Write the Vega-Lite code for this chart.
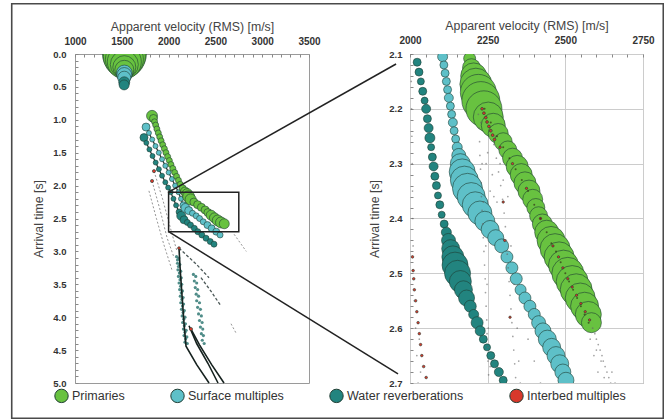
{
"$schema": "https://vega.github.io/schema/vega-lite/v6.json",
"padding": {"left": 10, "top": 2, "right": 1, "bottom": 2},
"background": "white",
"bounds": "flush",
"spacing": 101,
"datasets": {
"L": [
{"s":"Water reverberations","v":1737,"t":1.27,"a":4},{"s":"Water reverberations","v":1762,"t":1.35,"a":2.5},{"s":"Water reverberations","v":1795,"t":1.45,"a":2.5},{"s":"Water reverberations","v":1828,"t":1.55,"a":2.5},{"s":"Water reverberations","v":1862,"t":1.65,"a":2.5},{"s":"Water reverberations","v":1896,"t":1.75,"a":2.5},{"s":"Water reverberations","v":1930,"t":1.85,"a":2.5},{"s":"Water reverberations","v":1965,"t":1.95,"a":2.5},{"s":"Water reverberations","v":1995,"t":2.03,"a":2.5},{"s":"Water reverberations","v":2022,"t":2.1,"a":2.5},{"s":"Water reverberations","v":2052,"t":2.2,"a":2.5},{"s":"Water reverberations","v":2080,"t":2.3,"a":2.5},{"s":"Water reverberations","v":2112,"t":2.4,"a":3},{"s":"Water reverberations","v":2135,"t":2.46,"a":4.5},{"s":"Water reverberations","v":2165,"t":2.52,"a":4},{"s":"Water reverberations","v":2200,"t":2.56,"a":3},{"s":"Water reverberations","v":2234,"t":2.6,"a":3},{"s":"Water reverberations","v":2275,"t":2.65,"a":3},{"s":"Water reverberations","v":2312,"t":2.7,"a":3},{"s":"Water reverberations","v":2355,"t":2.75,"a":3},{"s":"Water reverberations","v":2400,"t":2.8,"a":3},{"s":"Water reverberations","v":2445,"t":2.85,"a":3},{"s":"Water reverberations","v":2485,"t":2.89,"a":3},
{"s":"Surface multiples","v":1759,"t":1.11,"a":4},{"s":"Surface multiples","v":1790,"t":1.2,"a":2.5},{"s":"Surface multiples","v":1825,"t":1.3,"a":2.5},{"s":"Surface multiples","v":1860,"t":1.4,"a":2.5},{"s":"Surface multiples","v":1895,"t":1.5,"a":2.5},{"s":"Surface multiples","v":1930,"t":1.6,"a":2.5},{"s":"Surface multiples","v":1965,"t":1.7,"a":2.5},{"s":"Surface multiples","v":2000,"t":1.8,"a":2.5},{"s":"Surface multiples","v":2035,"t":1.9,"a":2.5},{"s":"Surface multiples","v":2070,"t":2.0,"a":2.5},{"s":"Surface multiples","v":2106,"t":2.1,"a":2.5},{"s":"Surface multiples","v":2132,"t":2.2,"a":2.5},{"s":"Surface multiples","v":2158,"t":2.3,"a":3.5},{"s":"Surface multiples","v":2180,"t":2.34,"a":4.5},{"s":"Surface multiples","v":2215,"t":2.38,"a":4},{"s":"Surface multiples","v":2255,"t":2.42,"a":3},{"s":"Surface multiples","v":2295,"t":2.46,"a":3},{"s":"Surface multiples","v":2331,"t":2.5,"a":3},{"s":"Surface multiples","v":2370,"t":2.55,"a":3},{"s":"Surface multiples","v":2415,"t":2.6,"a":3.5},{"s":"Surface multiples","v":2460,"t":2.65,"a":3.5},{"s":"Surface multiples","v":2509,"t":2.7,"a":3.5},{"s":"Surface multiples","v":2550,"t":2.75,"a":3},
{"s":"Primaries","v":1823,"t":0.94,"a":5.5},{"s":"Primaries","v":1838,"t":0.98,"a":4},{"s":"Primaries","v":1850,"t":1.03,"a":3},{"s":"Primaries","v":1862,"t":1.08,"a":3},{"s":"Primaries","v":1875,"t":1.14,"a":3},{"s":"Primaries","v":1890,"t":1.2,"a":3},{"s":"Primaries","v":1905,"t":1.26,"a":3},{"s":"Primaries","v":1920,"t":1.32,"a":3},{"s":"Primaries","v":1937,"t":1.38,"a":3},{"s":"Primaries","v":1955,"t":1.44,"a":3},{"s":"Primaries","v":1972,"t":1.5,"a":3},{"s":"Primaries","v":1990,"t":1.56,"a":3},{"s":"Primaries","v":2008,"t":1.62,"a":3},{"s":"Primaries","v":2025,"t":1.68,"a":3},{"s":"Primaries","v":2045,"t":1.74,"a":3},{"s":"Primaries","v":2065,"t":1.8,"a":3},{"s":"Primaries","v":2085,"t":1.86,"a":3},{"s":"Primaries","v":2105,"t":1.92,"a":3},{"s":"Primaries","v":2125,"t":1.98,"a":3},{"s":"Primaries","v":2150,"t":2.04,"a":3.5},{"s":"Primaries","v":2175,"t":2.09,"a":4.5},{"s":"Primaries","v":2200,"t":2.13,"a":5.5},{"s":"Primaries","v":2215,"t":2.17,"a":6},{"s":"Primaries","v":2235,"t":2.21,"a":5.5},{"s":"Primaries","v":2270,"t":2.25,"a":4},{"s":"Primaries","v":2310,"t":2.29,"a":4},{"s":"Primaries","v":2350,"t":2.33,"a":4},{"s":"Primaries","v":2390,"t":2.37,"a":4},{"s":"Primaries","v":2420,"t":2.41,"a":4},{"s":"Primaries","v":2455,"t":2.45,"a":5},{"s":"Primaries","v":2490,"t":2.49,"a":5},{"s":"Primaries","v":2525,"t":2.53,"a":5.5},{"s":"Primaries","v":2560,"t":2.56,"a":5.5},{"s":"Primaries","v":2595,"t":2.58,"a":5},
{"s":"Primaries","v":1528,"t":0.0,"a":22},{"s":"Primaries","v":1528,"t":0.04,"a":21},{"s":"Primaries","v":1528,"t":0.08,"a":19},{"s":"Primaries","v":1527,"t":0.12,"a":17},{"s":"Primaries","v":1527,"t":0.16,"a":14},{"s":"Primaries","v":1527,"t":0.2,"a":11.5},{"s":"Primaries","v":1527,"t":0.24,"a":9.5},
{"s":"Surface multiples","v":1527,"t":0.29,"a":8},{"s":"Surface multiples","v":1527,"t":0.32,"a":7.5},{"s":"Surface multiples","v":1526,"t":0.36,"a":6.5},
{"s":"Water reverberations","v":1526,"t":0.43,"a":5.5},{"s":"Water reverberations","v":1525,"t":0.47,"a":5},
{"s":"Interbed multiples","v":1844,"t":1.78,"a":1.6},{"s":"Interbed multiples","v":1823,"t":1.93,"a":1.6},{"s":"Interbed multiples","v":2239,"t":4.18,"a":1.6},{"s":"Interbed multiples","v":2111,"t":2.95,"a":1.4}
],
"Lb": [
{"v":2085,"t":3.08},{"v":2110,"t":3.1},{"v":2095,"t":3.18},{"v":2120,"t":3.2},{"v":2100,"t":3.28},{"v":2130,"t":3.3},{"v":2105,"t":3.38},{"v":2135,"t":3.4},{"v":2112,"t":3.48},{"v":2140,"t":3.5},{"v":2118,"t":3.58},{"v":2148,"t":3.6},{"v":2125,"t":3.68},{"v":2155,"t":3.7},{"v":2130,"t":3.78},{"v":2160,"t":3.8},{"v":2138,"t":3.88},{"v":2168,"t":3.9},{"v":2145,"t":3.98},{"v":2175,"t":4.0},{"v":2150,"t":4.08},{"v":2180,"t":4.1},{"v":2158,"t":4.18},{"v":2188,"t":4.2},{"v":2165,"t":4.28},{"v":2195,"t":4.3},{"v":2175,"t":4.38},{"v":2200,"t":4.4},
{"v":2095,"t":3.13},{"v":2105,"t":3.23},{"v":2115,"t":3.33},{"v":2122,"t":3.43},{"v":2128,"t":3.53},{"v":2135,"t":3.63},{"v":2142,"t":3.73},{"v":2148,"t":3.83},{"v":2155,"t":3.93},{"v":2162,"t":4.03},{"v":2168,"t":4.13},{"v":2175,"t":4.23},{"v":2182,"t":4.33},
{"v":2265,"t":3.35},{"v":2290,"t":3.38},{"v":2275,"t":3.45},{"v":2300,"t":3.48},{"v":2285,"t":3.55},{"v":2310,"t":3.58},{"v":2295,"t":3.65},{"v":2320,"t":3.68},{"v":2300,"t":3.75},{"v":2330,"t":3.78},{"v":2310,"t":3.85},{"v":2340,"t":3.88},{"v":2320,"t":3.95},{"v":2350,"t":3.98},{"v":2330,"t":4.05},{"v":2358,"t":4.08},{"v":2340,"t":4.15},{"v":2365,"t":4.18},{"v":2350,"t":4.25},{"v":2372,"t":4.28},{"v":2360,"t":4.35},{"v":2380,"t":4.4}
],
"dark": [
{"id":"A","v":2111,"t":2.95},{"id":"A","v":2125,"t":3.3},{"id":"A","v":2145,"t":3.7},{"id":"A","v":2165,"t":4.1},{"id":"A","v":2186,"t":4.44},{"id":"A","v":2300,"t":4.72},{"id":"A","v":2432,"t":5.0},
{"id":"B","v":2218,"t":4.13},{"id":"B","v":2300,"t":4.4},{"id":"B","v":2420,"t":4.7},{"id":"B","v":2528,"t":5.0},
{"id":"C","v":2239,"t":4.18},{"id":"C","v":2330,"t":4.42},{"id":"C","v":2460,"t":4.72},{"id":"C","v":2592,"t":5.0}
],
"dash": [
{"id":"F1","v":1844,"t":1.78},{"id":"F1","v":1935,"t":2.2},{"id":"F1","v":2030,"t":2.7},{"id":"F1","v":2090,"t":3.0},
{"id":"F2","v":1823,"t":1.93},{"id":"F2","v":1905,"t":2.35},{"id":"F2","v":1985,"t":2.8},{"id":"F2","v":2060,"t":3.1},
{"id":"F3","v":1790,"t":2.08},{"id":"F3","v":1870,"t":2.5},{"id":"F3","v":1950,"t":2.9},{"id":"F3","v":2040,"t":3.3},
{"id":"F6","v":2667,"t":4.1},{"id":"F6","v":2720,"t":4.24},
{"id":"F7","v":2700,"t":2.74},{"id":"F7","v":2830,"t":3.0}
],
"dashd": [
{"id":"F4","v":2111,"t":2.95},{"id":"F4","v":2300,"t":3.2},{"id":"F4","v":2432,"t":3.4},
{"id":"F5","v":2346,"t":3.4},{"id":"F5","v":2450,"t":3.6},{"id":"F5","v":2560,"t":3.83}
],
"R": [
{"s":"Water reverberations","v":2023,"t":2.115,"a":4},{"s":"Water reverberations","v":2029,"t":2.133,"a":4},{"s":"Water reverberations","v":2035,"t":2.15,"a":3.5},{"s":"Water reverberations","v":2041,"t":2.168,"a":4},{"s":"Water reverberations","v":2047,"t":2.185,"a":3.5},{"s":"Water reverberations","v":2052,"t":2.2,"a":4.5},{"s":"Water reverberations","v":2056,"t":2.218,"a":4},{"s":"Water reverberations","v":2060,"t":2.235,"a":4.5},{"s":"Water reverberations","v":2064,"t":2.253,"a":5},{"s":"Water reverberations","v":2068,"t":2.27,"a":3.5},{"s":"Water reverberations","v":2072,"t":2.288,"a":4},{"s":"Water reverberations","v":2076,"t":2.305,"a":4.5},{"s":"Water reverberations","v":2080,"t":2.323,"a":4},{"s":"Water reverberations","v":2085,"t":2.34,"a":4},{"s":"Water reverberations","v":2090,"t":2.358,"a":3.5},{"s":"Water reverberations","v":2096,"t":2.375,"a":4},{"s":"Water reverberations","v":2102,"t":2.393,"a":3.5},{"s":"Water reverberations","v":2110,"t":2.41,"a":4},{"s":"Water reverberations","v":2117,"t":2.425,"a":5},{"s":"Water reverberations","v":2124,"t":2.44,"a":7},{"s":"Water reverberations","v":2131,"t":2.455,"a":9},{"s":"Water reverberations","v":2138,"t":2.47,"a":11},{"s":"Water reverberations","v":2145,"t":2.485,"a":13},{"s":"Water reverberations","v":2153,"t":2.5,"a":13},{"s":"Water reverberations","v":2162,"t":2.515,"a":11},{"s":"Water reverberations","v":2172,"t":2.53,"a":9},{"s":"Water reverberations","v":2182,"t":2.545,"a":8},{"s":"Water reverberations","v":2194,"t":2.56,"a":6},{"s":"Water reverberations","v":2205,"t":2.575,"a":5},{"s":"Water reverberations","v":2216,"t":2.59,"a":6},{"s":"Water reverberations","v":2226,"t":2.605,"a":5},{"s":"Water reverberations","v":2236,"t":2.62,"a":4},{"s":"Water reverberations","v":2248,"t":2.635,"a":3.5},{"s":"Water reverberations","v":2260,"t":2.65,"a":4},{"s":"Water reverberations","v":2272,"t":2.665,"a":4},{"s":"Water reverberations","v":2286,"t":2.68,"a":4.5},{"s":"Water reverberations","v":2300,"t":2.695,"a":4},
{"s":"Surface multiples","v":2105,"t":2.105,"a":5},{"s":"Surface multiples","v":2109,"t":2.12,"a":4},{"s":"Surface multiples","v":2113,"t":2.135,"a":4},{"s":"Surface multiples","v":2117,"t":2.15,"a":4},{"s":"Surface multiples","v":2121,"t":2.165,"a":4},{"s":"Surface multiples","v":2125,"t":2.18,"a":4.5},{"s":"Surface multiples","v":2130,"t":2.195,"a":4},{"s":"Surface multiples","v":2134,"t":2.21,"a":4},{"s":"Surface multiples","v":2138,"t":2.225,"a":4.5},{"s":"Surface multiples","v":2142,"t":2.24,"a":4},{"s":"Surface multiples","v":2147,"t":2.255,"a":4},{"s":"Surface multiples","v":2152,"t":2.27,"a":5},{"s":"Surface multiples","v":2157,"t":2.285,"a":7},{"s":"Surface multiples","v":2162,"t":2.3,"a":10},{"s":"Surface multiples","v":2168,"t":2.315,"a":13},{"s":"Surface multiples","v":2175,"t":2.33,"a":14},{"s":"Surface multiples","v":2185,"t":2.345,"a":15},{"s":"Surface multiples","v":2197,"t":2.36,"a":14},{"s":"Surface multiples","v":2210,"t":2.375,"a":13},{"s":"Surface multiples","v":2225,"t":2.39,"a":12},{"s":"Surface multiples","v":2241,"t":2.405,"a":10},{"s":"Surface multiples","v":2258,"t":2.42,"a":9},{"s":"Surface multiples","v":2276,"t":2.435,"a":8},{"s":"Surface multiples","v":2295,"t":2.45,"a":7},{"s":"Surface multiples","v":2312,"t":2.47,"a":6},{"s":"Surface multiples","v":2328,"t":2.49,"a":6},{"s":"Surface multiples","v":2342,"t":2.51,"a":6},{"s":"Surface multiples","v":2356,"t":2.53,"a":5.5},{"s":"Surface multiples","v":2370,"t":2.545,"a":6},{"s":"Surface multiples","v":2386,"t":2.56,"a":6},{"s":"Surface multiples","v":2400,"t":2.575,"a":6},{"s":"Surface multiples","v":2414,"t":2.59,"a":7},{"s":"Surface multiples","v":2428,"t":2.605,"a":8},{"s":"Surface multiples","v":2442,"t":2.62,"a":9},{"s":"Surface multiples","v":2456,"t":2.635,"a":9},{"s":"Surface multiples","v":2470,"t":2.65,"a":9},{"s":"Surface multiples","v":2482,"t":2.665,"a":9},{"s":"Surface multiples","v":2492,"t":2.68,"a":8},{"s":"Surface multiples","v":2502,"t":2.695,"a":8},
{"s":"Primaries","v":2192,"t":2.108,"a":6},{"s":"Primaries","v":2198,"t":2.125,"a":9},{"s":"Primaries","v":2205,"t":2.14,"a":13},{"s":"Primaries","v":2212,"t":2.155,"a":16},{"s":"Primaries","v":2220,"t":2.17,"a":18},{"s":"Primaries","v":2228,"t":2.185,"a":19},{"s":"Primaries","v":2238,"t":2.2,"a":18},{"s":"Primaries","v":2252,"t":2.215,"a":15},{"s":"Primaries","v":2268,"t":2.23,"a":12},{"s":"Primaries","v":2284,"t":2.245,"a":10},{"s":"Primaries","v":2300,"t":2.26,"a":9},{"s":"Primaries","v":2315,"t":2.275,"a":9},{"s":"Primaries","v":2330,"t":2.29,"a":10},{"s":"Primaries","v":2345,"t":2.305,"a":11},{"s":"Primaries","v":2358,"t":2.32,"a":11},{"s":"Primaries","v":2370,"t":2.335,"a":11},{"s":"Primaries","v":2383,"t":2.35,"a":11},{"s":"Primaries","v":2395,"t":2.365,"a":10},{"s":"Primaries","v":2405,"t":2.38,"a":9},{"s":"Primaries","v":2414,"t":2.395,"a":9},{"s":"Primaries","v":2426,"t":2.41,"a":10},{"s":"Primaries","v":2440,"t":2.425,"a":12},{"s":"Primaries","v":2454,"t":2.44,"a":14},{"s":"Primaries","v":2467,"t":2.455,"a":15},{"s":"Primaries","v":2480,"t":2.47,"a":15},{"s":"Primaries","v":2494,"t":2.485,"a":15},{"s":"Primaries","v":2508,"t":2.5,"a":16},{"s":"Primaries","v":2522,"t":2.515,"a":16},{"s":"Primaries","v":2535,"t":2.53,"a":16},{"s":"Primaries","v":2548,"t":2.545,"a":15},{"s":"Primaries","v":2562,"t":2.56,"a":14},{"s":"Primaries","v":2574,"t":2.575,"a":13},{"s":"Primaries","v":2584,"t":2.59,"a":10},
{"s":"Interbed multiples","v":2232,"t":2.2,"a":1.4},{"s":"Interbed multiples","v":2238,"t":2.208,"a":1.4},{"s":"Interbed multiples","v":2244,"t":2.216,"a":1.4},{"s":"Interbed multiples","v":2248,"t":2.224,"a":1.4},{"s":"Interbed multiples","v":2254,"t":2.232,"a":1.4},{"s":"Interbed multiples","v":2260,"t":2.24,"a":1.4},{"s":"Interbed multiples","v":2266,"t":2.248,"a":1.4},{"s":"Interbed multiples","v":2272,"t":2.256,"a":1.4},{"s":"Interbed multiples","v":2290,"t":2.27,"a":1.2},{"s":"Interbed multiples","v":2330,"t":2.3,"a":1.2},{"s":"Interbed multiples","v":2375,"t":2.345,"a":1.2},{"s":"Interbed multiples","v":2420,"t":2.4,"a":1.2},{"s":"Interbed multiples","v":2460,"t":2.45,"a":1.2},{"s":"Interbed multiples","v":2478,"t":2.47,"a":1.2},{"s":"Interbed multiples","v":2492,"t":2.49,"a":1.2},{"s":"Interbed multiples","v":2508,"t":2.51,"a":1.2},{"s":"Interbed multiples","v":2522,"t":2.525,"a":1.2},{"s":"Interbed multiples","v":2536,"t":2.54,"a":1.2},{"s":"Interbed multiples","v":2550,"t":2.555,"a":1.2},{"s":"Interbed multiples","v":2564,"t":2.57,"a":1.2},{"s":"Interbed multiples","v":2578,"t":2.585,"a":1.2},
{"s":"Interbed multiples","v":2008,"t":2.47,"a":1.3},{"s":"Interbed multiples","v":2010,"t":2.495,"a":1.3},{"s":"Interbed multiples","v":2012,"t":2.51,"a":1.3},{"s":"Interbed multiples","v":2014,"t":2.53,"a":1.3},{"s":"Interbed multiples","v":2018,"t":2.55,"a":1.3},{"s":"Interbed multiples","v":2022,"t":2.57,"a":1.3},{"s":"Interbed multiples","v":2026,"t":2.59,"a":1.3},{"s":"Interbed multiples","v":2030,"t":2.61,"a":1.3},{"s":"Interbed multiples","v":2034,"t":2.63,"a":1.3},{"s":"Interbed multiples","v":2038,"t":2.65,"a":1.3},{"s":"Interbed multiples","v":2044,"t":2.67,"a":1.3},{"s":"Interbed multiples","v":2052,"t":2.69,"a":1.3},
{"s":"Interbed multiples","v":2305,"t":2.44,"a":1.2},{"s":"Interbed multiples","v":2322,"t":2.58,"a":1.2},{"s":"Interbed multiples","v":2300,"t":2.37,"a":1.2}
],
"Ro": [
{"v":2220,"t":2.21},{"v":2222,"t":2.235},{"v":2224,"t":2.26},{"v":2225,"t":2.285},{"v":2227,"t":2.31},{"v":2229,"t":2.335},{"v":2230,"t":2.36},{"v":2232,"t":2.385},{"v":2234,"t":2.41},{"v":2236,"t":2.435},{"v":2238,"t":2.46},{"v":2240,"t":2.485},{"v":2242,"t":2.51},{"v":2243,"t":2.535},{"v":2245,"t":2.56},{"v":2247,"t":2.585},{"v":2248,"t":2.61},{"v":2250,"t":2.635},{"v":2251,"t":2.66},{"v":2253,"t":2.685},
{"v":2228,"t":2.225},{"v":2232,"t":2.3},{"v":2236,"t":2.37},{"v":2244,"t":2.45},{"v":2248,"t":2.52},{"v":2252,"t":2.6},{"v":2258,"t":2.67},
{"v":2262,"t":2.24},{"v":2270,"t":2.265},{"v":2278,"t":2.29},{"v":2285,"t":2.315},{"v":2292,"t":2.34},{"v":2298,"t":2.365},{"v":2303,"t":2.39},{"v":2307,"t":2.415},{"v":2310,"t":2.44},{"v":2313,"t":2.465},{"v":2316,"t":2.49},{"v":2319,"t":2.515},{"v":2322,"t":2.54},{"v":2325,"t":2.565},{"v":2328,"t":2.59},{"v":2331,"t":2.615},{"v":2334,"t":2.64},{"v":2337,"t":2.665},{"v":2340,"t":2.69},
{"v":2275,"t":2.25},{"v":2290,"t":2.3},{"v":2300,"t":2.33},{"v":2315,"t":2.36},{"v":2280,"t":2.37},{"v":2325,"t":2.45},{"v":2335,"t":2.52},{"v":2345,"t":2.6},{"v":2350,"t":2.66},{"v":2355,"t":2.7},
{"v":2588,"t":2.6},{"v":2595,"t":2.61},{"v":2600,"t":2.62},{"v":2606,"t":2.63},{"v":2612,"t":2.64},{"v":2618,"t":2.65},{"v":2622,"t":2.66},{"v":2628,"t":2.67},{"v":2634,"t":2.68},{"v":2640,"t":2.69},{"v":2646,"t":2.7},{"v":2600,"t":2.64},{"v":2615,"t":2.66},{"v":2625,"t":2.69},{"v":2580,"t":2.62},{"v":2592,"t":2.65},{"v":2605,"t":2.68},{"v":2650,"t":2.68},{"v":2660,"t":2.7},
{"v":2003,"t":2.1},{"v":2004,"t":2.15},{"v":2005,"t":2.2},{"v":2006,"t":2.25},{"v":2007,"t":2.3},{"v":2008,"t":2.35},{"v":2009,"t":2.4},{"v":2010,"t":2.45},{"v":2014,"t":2.55},{"v":2018,"t":2.6},{"v":2022,"t":2.65},{"v":2026,"t":2.7},{"v":2030,"t":2.62},{"v":2034,"t":2.68},
{"v":2400,"t":2.66},{"v":2420,"t":2.7},{"v":2380,"t":2.62},{"v":2250,"t":2.28},{"v":2265,"t":2.32},{"v":2258,"t":2.35},{"v":2245,"t":2.3},{"v":2270,"t":2.36}
],
"Rk": [
{"v":2240,"t":2.2},{"v":2260,"t":2.225},{"v":2280,"t":2.25},{"v":2300,"t":2.27},{"v":2320,"t":2.29},{"v":2340,"t":2.31},{"v":2360,"t":2.33},{"v":2380,"t":2.35},{"v":2400,"t":2.375},{"v":2420,"t":2.4},{"v":2440,"t":2.425},{"v":2455,"t":2.445},{"v":2470,"t":2.46},{"v":2485,"t":2.48},{"v":2500,"t":2.5},{"v":2512,"t":2.515},{"v":2525,"t":2.53},{"v":2538,"t":2.545},{"v":2550,"t":2.56},{"v":2562,"t":2.575},{"v":2575,"t":2.59}
]
},
"hconcat": [
{
"width": 234, "height": 329,
"layer": [
{"data": {"values": [{}]},
 "mark": {"type": "rect", "filled": false, "color": "#4a4a4a", "strokeWidth": 1.6},
 "encoding": {
  "x": {"datum": 324, "type": "quantitative", "scale": {"domain": [1000, 3500], "nice": false, "zero": false}, "title": "Apparent velocity (RMS) [m/s]"},
  "x2": {"datum": 7285},
  "y": {"datum": -0.764, "type": "quantitative", "scale": {"domain": [0, 5], "reverse": true, "nice": false, "zero": false}, "title": "Arrival time [s]"},
  "y2": {"datum": 5.536}}},
{"data": {"name": "dash"},
 "mark": {"type": "line", "color": "#7a7a7a", "strokeWidth": 1, "strokeDash": [2, 2], "opacity": 0.8},
 "encoding": {"x": {"field": "v", "type": "quantitative", "title": "Apparent velocity (RMS) [m/s]"}, "y": {"field": "t", "type": "quantitative", "title": "Arrival time [s]"}, "detail": {"field": "id"}, "order": {"field": "t"}}},
{"data": {"name": "dashd"},
 "mark": {"type": "line", "color": "#2a3a38", "strokeWidth": 1.3, "strokeDash": [3, 2], "opacity": 0.85},
 "encoding": {"x": {"field": "v", "type": "quantitative", "title": "Apparent velocity (RMS) [m/s]"}, "y": {"field": "t", "type": "quantitative", "title": "Arrival time [s]"}, "detail": {"field": "id"}, "order": {"field": "t"}}},
{"data": {"name": "Lb"},
 "mark": {"type": "point", "filled": true, "opacity": 0.8, "size": 10},
 "encoding": {"x": {"field": "v", "type": "quantitative", "title": "Apparent velocity (RMS) [m/s]"}, "y": {"field": "t", "type": "quantitative", "title": "Arrival time [s]"}, "color": {"value": "#24706c"}}},
{"data": {"name": "dark"},
 "mark": {"type": "line", "color": "#16221f", "strokeWidth": 1.6},
 "encoding": {"x": {"field": "v", "type": "quantitative", "title": "Apparent velocity (RMS) [m/s]"}, "y": {"field": "t", "type": "quantitative", "title": "Arrival time [s]"}, "detail": {"field": "id"}, "order": {"field": "t"}}},
{"data": {"name": "L"},
 "transform": [{"filter": "datum.t > 0.8 && datum.s != 'Interbed multiples'"}],
 "mark": {"type": "line", "color": "#23332c", "strokeWidth": 1.2},
 "encoding": {"x": {"field": "v", "type": "quantitative", "title": "Apparent velocity (RMS) [m/s]"}, "y": {"field": "t", "type": "quantitative", "title": "Arrival time [s]"}, "detail": {"field": "s"}, "order": {"field": "t"}}},
{"data": {"name": "L"},
 "mark": {"type": "point", "filled": true, "opacity": 1, "stroke": "#1f3d33", "strokeWidth": 0.7, "strokeOpacity": 0.85, "clip": true},
 "encoding": {
  "x": {"field": "v", "type": "quantitative", "title": "Apparent velocity (RMS) [m/s]",
   "axis": {"orient": "top", "tickCount": 1000, "values": [1000,1100,1200,1300,1400,1500,1600,1700,1800,1900,2000,2100,2200,2300,2400,2500,2600,2700,2800,2900,3000,3100,3200,3300,3400,3500], "format": "d", "labelExpr": "datum.value % 500 === 0 ? datum.label : ''", "gridOpacity": {"condition": {"test": "datum.value % 500 === 0", "value": 1}, "value": 0}, "labelPadding": 10.5, "titlePadding": 3.5, "labelFontSize": 10, "labelOverlap": false, "labelFlush": false}},
  "y": {"field": "t", "type": "quantitative", "title": "Arrival time [s]",
   "axis": {"tickCount": 1000, "values": [0,0.1,0.2,0.3,0.4,0.5,0.6,0.7,0.8,0.9,1,1.1,1.2,1.3,1.4,1.5,1.6,1.7,1.8,1.9,2,2.1,2.2,2.3,2.4,2.5,2.6,2.7,2.8,2.9,3,3.1,3.2,3.3,3.4,3.5,3.6,3.7,3.8,3.9,4,4.1,4.2,4.3,4.4,4.5,4.6,4.7,4.8,4.9,5], "labelExpr": "abs(datum.value*2 - round(datum.value*2)) < 0.000001 ? format(datum.value, '.1f') : ''", "gridOpacity": {"condition": {"test": "abs(datum.value*2 - round(datum.value*2)) < 0.000001", "value": 1}, "value": 0}, "labelPadding": 12, "titlePadding": 7, "labelOverlap": false, "labelFlush": false}},
  "color": {"field": "s", "type": "nominal",
   "scale": {"domain": ["Primaries", "Surface multiples", "Water reverberations", "Interbed multiples"], "range": ["#68c240", "#5ec0c8", "#22847f", "#d8382b"]},
   "legend": {"orient": "none", "legendX": -21, "legendY": 334, "direction": "horizontal", "columns": 4, "title": null, "symbolType": "circle", "symbolSize": 180, "symbolStrokeColor": "#333333", "symbolStrokeWidth": 1, "symbolOpacity": 1, "labelFontSize": 12.5, "labelColor": "#333333", "labelFont": "Liberation Sans", "columnPadding": 43, "labelOffset": 3, "padding": 0}},
  "size": {"field": "a", "type": "quantitative", "scale": {"type": "pow", "exponent": 2, "domain": [0, 20], "range": [0, 1600]}, "legend": null}}},
{"data": {"values": [{}]},
 "mark": {"type": "rect", "filled": false, "color": "#222222", "strokeWidth": 1.5},
 "encoding": {"x": {"datum": 2000, "type": "quantitative", "title": "Apparent velocity (RMS) [m/s]"}, "x2": {"datum": 2750}, "y": {"datum": 2.1, "type": "quantitative", "title": "Arrival time [s]"}, "y2": {"datum": 2.7}}},
{"data": {"values": [{}]},
 "mark": {"type": "rule", "color": "#222222", "strokeWidth": 1.5},
 "encoding": {"x": {"datum": 2000, "type": "quantitative", "title": "Apparent velocity (RMS) [m/s]"}, "x2": {"datum": 4430}, "y": {"datum": 2.1, "type": "quantitative", "title": "Arrival time [s]"}, "y2": {"datum": 0.152}}},
{"data": {"values": [{}]},
 "mark": {"type": "rule", "color": "#222222", "strokeWidth": 1.5},
 "encoding": {"x": {"datum": 2000, "type": "quantitative", "title": "Apparent velocity (RMS) [m/s]"}, "x2": {"datum": 4451}, "y": {"datum": 2.7, "type": "quantitative", "title": "Arrival time [s]"}, "y2": {"datum": 4.863}}}
]
},
{
"width": 233, "height": 329,
"layer": [
{"data": {"name": "R"},
 "mark": {"type": "point", "filled": true, "opacity": 1, "stroke": "#1f3d33", "strokeWidth": 0.7, "strokeOpacity": 0.85, "clip": true},
 "encoding": {
  "x": {"field": "v", "type": "quantitative", "scale": {"domain": [2000, 2750], "nice": false, "zero": false}, "title": "Apparent velocity (RMS) [m/s]",
   "axis": {"orient": "top", "tickCount": 1000, "values": [2000,2050,2100,2150,2200,2250,2300,2350,2400,2450,2500,2550,2600,2650,2700,2750], "format": "d", "labelExpr": "datum.value % 250 === 0 ? datum.label : ''", "gridOpacity": {"condition": {"test": "datum.value % 250 === 0", "value": 1}, "value": 0}, "labelPadding": 12, "titlePadding": 2.5, "labelFontSize": 10, "labelOverlap": false, "labelFlush": false}},
  "y": {"field": "t", "type": "quantitative", "scale": {"domain": [2.1, 2.7], "reverse": true, "nice": false, "zero": false}, "title": "Arrival time [s]",
   "axis": {"tickCount": 1000, "values": [2.1,2.12,2.14,2.16,2.18,2.2,2.22,2.24,2.26,2.28,2.3,2.32,2.34,2.36,2.38,2.4,2.42,2.44,2.46,2.48,2.5,2.52,2.54,2.56,2.58,2.6,2.62,2.64,2.66,2.68,2.7], "labelExpr": "abs(datum.value*10 - round(datum.value*10)) < 0.000001 ? format(datum.value, '.1f') : ''", "gridOpacity": {"condition": {"test": "abs(datum.value*10 - round(datum.value*10)) < 0.000001", "value": 1}, "value": 0}, "labelPadding": 11, "titlePadding": 7, "labelOverlap": false, "labelFlush": false}},
  "color": {"field": "s", "type": "nominal"},
  "size": {"field": "a", "type": "quantitative", "scale": {"type": "pow", "exponent": 2, "domain": [0, 20], "range": [0, 1600]}, "legend": null}}},
{"data": {"name": "Ro"},
 "mark": {"type": "point", "filled": true, "opacity": 0.6, "size": 3, "color": "#666666", "clip": true},
 "encoding": {"x": {"field": "v", "type": "quantitative", "title": "Apparent velocity (RMS) [m/s]"}, "y": {"field": "t", "type": "quantitative", "title": "Arrival time [s]"}}},
{"data": {"name": "Rk"},
 "mark": {"type": "point", "filled": true, "opacity": 0.6, "size": 4, "color": "#2a1a10", "clip": true},
 "encoding": {"x": {"field": "v", "type": "quantitative", "title": "Apparent velocity (RMS) [m/s]"}, "y": {"field": "t", "type": "quantitative", "title": "Arrival time [s]"}}}
]
}
],
"resolve": {"scale": {"x": "independent", "y": "independent", "color": "shared", "size": "shared"}},
"config": {
 "font": "Liberation Sans",
 "view": {"stroke": "#9a9a9a", "strokeWidth": 1},
 "axis": {"gridColor": "#cccccc", "gridWidth": 1, "domain": false, "tickColor": "#888888", "tickSize": -3, "labelFont": "Liberation Sans", "labelFontWeight": "bold", "labelFontSize": 9.5, "labelColor": "#333333", "titleFont": "Liberation Sans", "titleFontWeight": "normal", "titleFontSize": 12.3, "titleColor": "#444444"}
}
}
